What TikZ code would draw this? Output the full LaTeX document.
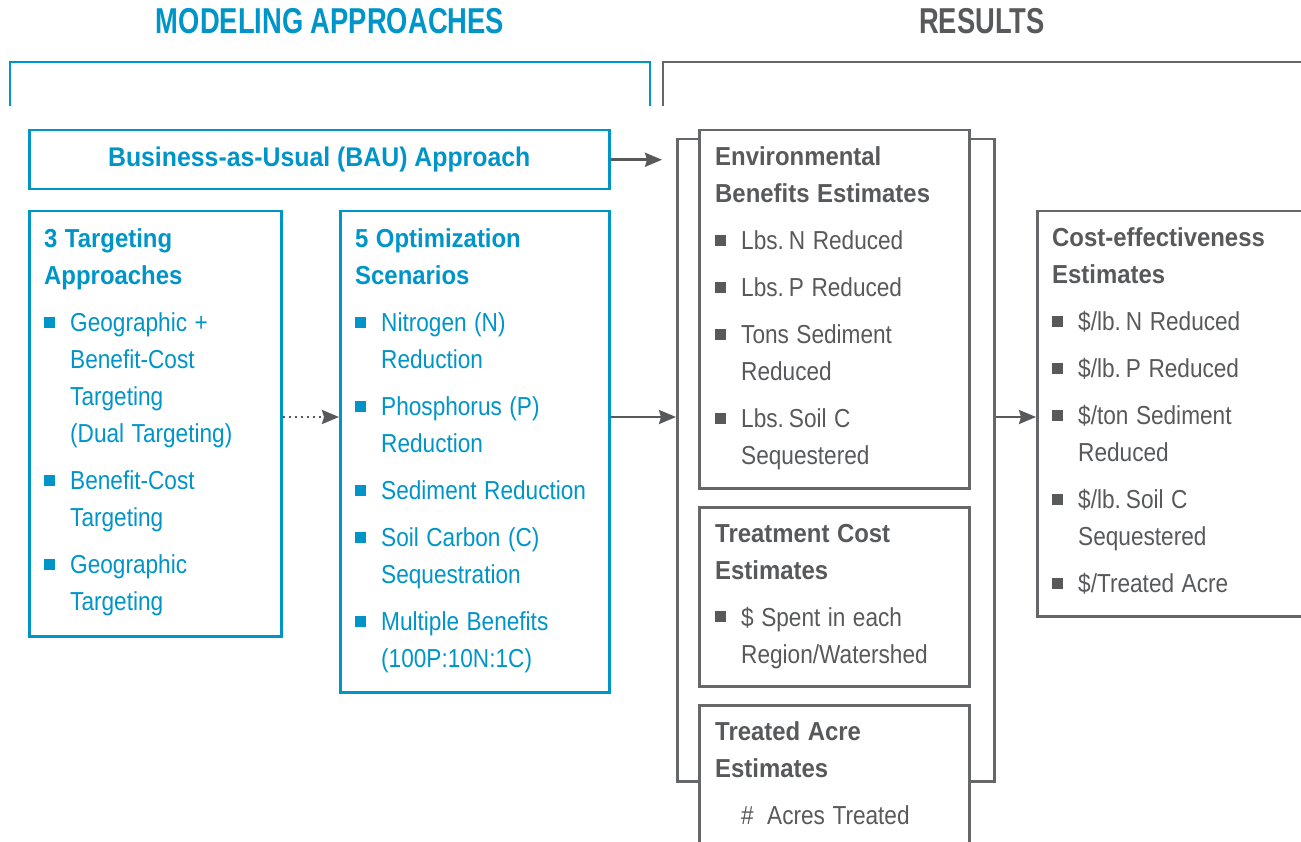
\documentclass[tikz,border=0pt]{standalone}
\usepackage{fontspec}
\setmainfont[FakeStretch=0.87, BoldFeatures={FakeStretch=0.92}]{Liberation Sans}
\newfontfamily\headfont[FakeStretch=0.76]{Liberation Sans Bold}
\usetikzlibrary{arrows.meta, positioning, calc}
\definecolor{mainBlue}{RGB}{0,149,200}
\definecolor{mainGray}{RGB}{88,89,91}
\definecolor{lineGray}{RGB}{102,103,105}

% bullet line with hanging indent
\newcommand{\bitem}[1]{\par\hangindent=26pt\hangafter=1\noindent\makebox[26pt][l]{\rule[4pt]{11pt}{11pt}}#1}
\newcommand{\boxhead}[1]{\noindent\textbf{#1}}

\begin{document}
\begin{tikzpicture}[x=1pt, y=-1pt,
    bluebox/.style={draw=mainBlue, line width=2.5pt, fill=white, inner sep=0pt, anchor=north west},
    graybox/.style={draw=lineGray, line width=2.5pt, fill=white, inner sep=0pt, anchor=north west},
    txt/.style={anchor=base west, inner sep=0pt, text width=270pt,
        execute at begin node={\fontsize{26pt}{37pt}\selectfont\setlength{\parskip}{10pt}%
            \spaceskip=7.5pt plus 2pt minus 1pt\relax}},
    arr/.style={draw=mainGray, line width=2.5pt, -{Stealth[length=17pt, width=14pt, inset=2pt]}},
    ttl/.style={font=\headfont\fontsize{36pt}{40pt}\selectfont}]
    \useasboundingbox (0,0) rectangle (1301,842);
    \clip (0,0) rectangle (1301,842);

    % section headers
    \node[ttl, text=mainBlue] (mtitle) at (330,21) {MODELING APPROACHES};
    \node[ttl, text=mainGray] (rtitle) at (982,21) {RESULTS};
    \draw[mainBlue, line width=2.5pt] (10,106) -- (10,62) -- (650,62) -- (650,106);
    \draw[lineGray, line width=2.5pt] (663,106) -- (663,62) -- (1320,62);

    % modeling side
    \node[bluebox, minimum width=580pt, minimum height=59pt, text=mainBlue,
        font=\bfseries\fontsize{27pt}{30pt}\selectfont] (bau) at (28,129)
        {Business-as-Usual (BAU) Approach};
    \node[bluebox, minimum width=252pt, minimum height=425pt] (tgt) at (28,210) {};
    \node[bluebox, minimum width=269pt, minimum height=481pt] (opt) at (339,210) {};

    \node[txt, text=mainBlue] (tgtText) at (44,248) {%
        \boxhead{3 Targeting\newline Approaches}
        \bitem{Geographic +\newline Benefit-Cost\newline Targeting\newline (Dual Targeting)}
        \bitem{Benefit-Cost\newline Targeting}
        \bitem{Geographic\newline Targeting}\par};
    \node[txt, text=mainBlue] (optText) at (355,248) {%
        \boxhead{5 Optimization\newline Scenarios}
        \bitem{Nitrogen (N)\newline Reduction}
        \bitem{Phosphorus (P)\newline Reduction}
        \bitem{Sediment Reduction}
        \bitem{Soil Carbon (C)\newline Sequestration}
        \bitem{Multiple Benefits\newline (100P:10N:1C)}\par};

    % results side
    \node[graybox, minimum width=317pt, minimum height=642pt] (frame) at (676,138) {};
    \node[graybox, minimum width=270pt, minimum height=358pt] (env) at (698,129) {};
    \node[graybox, minimum width=270pt, minimum height=179pt] (treat) at (698,506) {};
    \node[graybox, minimum width=270pt, minimum height=200pt] (acre) at (698,704) {};
    \node[graybox, minimum width=300pt, minimum height=405pt] (cost) at (1036,210) {};

    \node[txt, text=mainGray] (envText) at (715,166) {%
        \boxhead{Environmental\newline Benefits Estimates}
        \bitem{Lbs. N Reduced}
        \bitem{Lbs. P Reduced}
        \bitem{Tons Sediment\newline Reduced}
        \bitem{Lbs. Soil C\newline Sequestered}\par};
    \node[txt, text=mainGray] (treatText) at (715,542) {%
        \boxhead{Treatment Cost\newline Estimates}
        \bitem{\$ Spent in each\newline Region/Watershed}\par};
    \node[txt, text=mainGray] (acreText) at (715,740) {%
        \boxhead{Treated Acre\newline Estimates}
        \par\noindent\hspace*{26pt}\makebox[26pt][l]{\#}Acres Treated\par};
    \node[txt, text=mainGray] (costText) at (1052,247) {%
        \boxhead{Cost-effectiveness\newline Estimates}
        \bitem{\$/lb. N Reduced}
        \bitem{\$/lb. P Reduced}
        \bitem{\$/ton Sediment\newline Reduced}
        \bitem{\$/lb. Soil C\newline Sequestered}
        \bitem{\$/Treated Acre}\par};

    % connectors
    \coordinate (mid) at (0,417);
    \draw[arr, shorten >=14pt] (bau.east) -- (bau.east -| frame.west);
    \draw[arr, dash pattern=on 2pt off 4pt] (tgt.east |- mid) -- (opt.west |- mid);
    \draw[arr] (opt.east |- mid) -- (frame.west |- mid);
    \draw[arr] (frame.east |- mid) -- (cost.west |- mid);
\end{tikzpicture}
\end{document}
